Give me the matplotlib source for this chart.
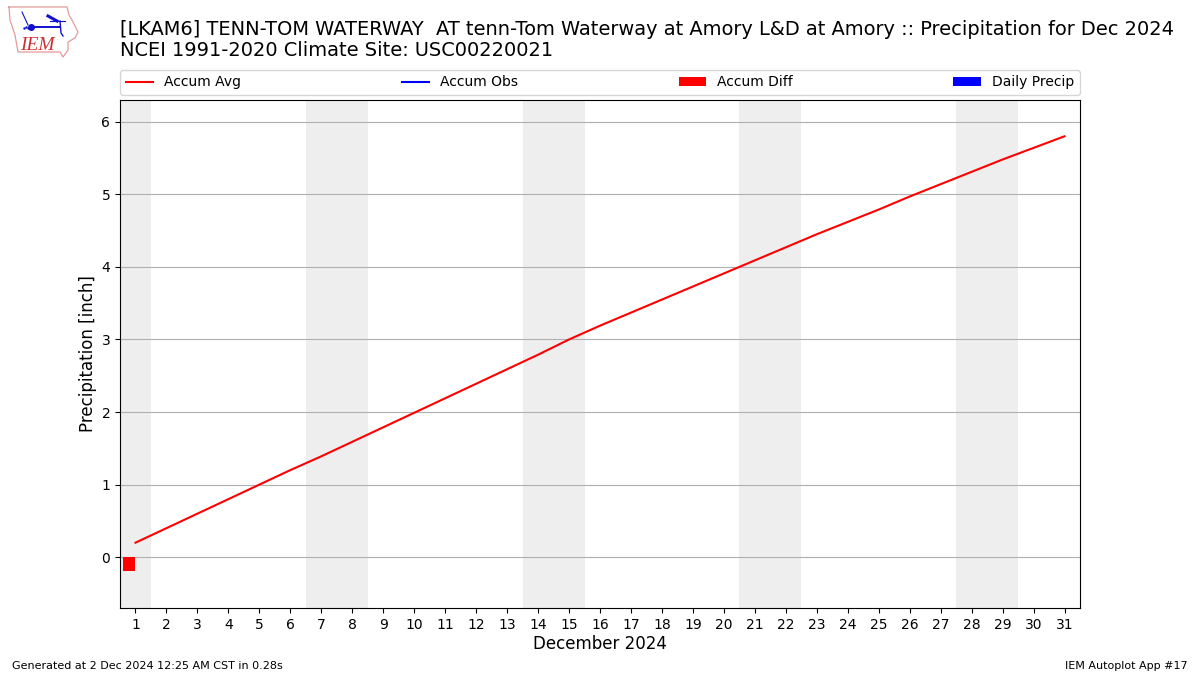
import matplotlib
matplotlib.use("Agg")
import matplotlib.pyplot as plt
import numpy as np

days = list(range(1, 32))
accum_avg = [0.20, 0.40, 0.60, 0.80, 1.00, 1.20, 1.39, 1.59, 1.79, 1.99, 2.19,
             2.39, 2.59, 2.79, 3.00, 3.19, 3.37, 3.55, 3.73, 3.91, 4.09, 4.27,
             4.45, 4.62, 4.79, 4.97, 5.14, 5.31, 5.48, 5.64, 5.80]
obs_days = [1]
accum_obs = [0.0]
daily_precip = [0.0]
accum_diff = [-0.19]
weekends = [(0.5, 1.5), (6.5, 8.5), (13.5, 15.5), (20.5, 22.5), (27.5, 29.5)]

W, H = 1200.0, 675.0
fig = plt.figure(figsize=(12, 6.75), dpi=100)
ax = fig.add_axes([120 / W, 1 - 608 / H, 960 / W, 508 / H])

# weekends shaded, below the grid lines
for start, end in weekends:
    ax.axvspan(start, end, color="#eeeeee", lw=0, zorder=0.2)

ax.bar(np.array(obs_days), daily_precip, width=0.4, align="edge", color="b",
       label="Daily Precip", zorder=2)
ax.bar(np.array(obs_days) - 0.4, accum_diff, width=0.4, align="edge", color="r",
       label="Accum Diff", zorder=2)
ax.plot(days, accum_avg, color="r", lw=1.5, label="Accum Avg", zorder=3)
ax.plot(obs_days, accum_obs, color="b", lw=1.5, label="Accum Obs", zorder=3)

ax.set_xlim(0.5, 31.5)
ax.set_ylim(-0.7, 6.3)
ax.set_xticks(days)
ax.set_yticks(range(0, 7))
ax.yaxis.grid(True, color="#b0b0b0", lw=0.8)
ax.set_axisbelow(True)
ax.set_xlabel("December 2024", fontsize=12, labelpad=2.5)
ax.set_ylabel("Precipitation [inch]", fontsize=12, labelpad=3)

handles, labels = ax.get_legend_handles_labels()
order = ["Accum Avg", "Accum Obs", "Accum Diff", "Daily Precip"]
lookup = dict(zip(labels, handles))
ax.legend([lookup[k] for k in order], order, ncol=4, mode="expand", fontsize=10,
          loc="lower left", bbox_to_anchor=(0, 1.01, 1, 0.05), borderaxespad=0)

fig.text(120 / W, 1 - 29.4 / H, "[LKAM6] TENN-TOM WATERWAY  AT tenn-Tom Waterway at Amory L&D at Amory :: Precipitation for Dec 2024",
         fontsize=13.98, va="center")
fig.text(120 / W, 1 - 51 / H, "NCEI 1991-2020 Climate Site: USC00220021", fontsize=13.98, va="center")
fig.text(12 / W, 1 - 666 / H, "Generated at 2 Dec 2024 12:25 AM CST in 0.28s", fontsize=8, va="center")
fig.text(1188 / W, 1 - 666 / H, "IEM Autoplot App #17", fontsize=8, va="center", ha="right")

# little IEM logo, pixel coordinates
logo = fig.add_axes([0, 0, 1, 1], facecolor="none", zorder=5)
logo.set_xlim(0, W)
logo.set_ylim(H, 0)
logo.axis("off")
state_x = [9, 67, 69, 72, 78, 75, 68, 68, 63, 60, 18, 15, 10, 9]
state_y = [7, 7, 15, 20, 32, 38, 42, 50, 57, 52, 52, 35, 20, 7]
logo.plot(state_x, state_y, color="#e59a9a", lw=0.9)
logo.plot([31, 60], [27, 27], color="#1010d0", lw=1.4)
logo.plot([60, 61, 63], [21, 33, 36], color="#1010d0", lw=1)
logo.plot([22, 28], [12, 25], color="#1010d0", lw=0.8)
logo.plot([48, 57], [16, 21], color="#1010d0", lw=2.2)
logo.plot([50, 65], [21, 21], color="#1010d0", lw=0.8)
logo.plot([31], [27], "o", color="#1010d0", ms=4)
logo.plot([24, 26, 28], [28, 27, 28], ".", color="#1010d0", ms=1.5)
logo.text(37, 45, "IEM", color="#d03030", fontsize=14, family="Liberation Serif",
          style="italic", ha="center", va="center")

fig.savefig("out.png", dpi=100)
